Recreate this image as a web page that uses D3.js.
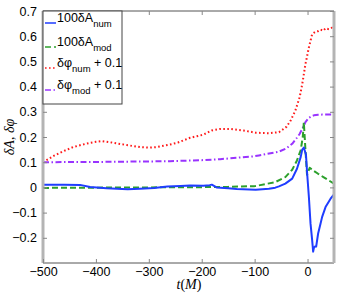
<!DOCTYPE html>
<html><head><meta charset="utf-8">
<script src="https://cdn.jsdelivr.net/npm/d3@7/dist/d3.min.js"></script>
<style>body{margin:0;background:#fff}svg{display:block}</style>
</head><body>
<svg id="c" width="344" height="299"></svg>
<script>
const xTicks = [-500,-400,-300,-200,-100,0];
const yTicks = [-0.2,-0.1,0,0.1,0.2,0.3,0.4,0.5,0.6,0.7];
const yTickLabels = ["\u22120.2","\u22120.1","0","0.1","0.2","0.3","0.4","0.5","0.6","0.7"];
const xTickLabels = ["\u2212500","\u2212400","\u2212300","\u2212200","\u2212100","0"];

const ampNumT = [-500,-460,-430,-411,-380,-340,-317,-290,-265,-240,-222,-197,-185,-181,-176,-172,-150,-134,-98,-73,-61,-54,-42,-29,-20,-13,-10,-7,-3,-0.7,2.5,5.6,8.7,10.6,12,13.8,16.3,20,24.6,27.6,34,43.5,50];
const ampNumV = [0.011,0.011,0.010,0.002,-0.003,-0.007,-0.005,-0.002,0.004,0.006,0.008,0.007,0.009,0.011,0.005,0.000,-0.003,-0.006,-0.009,-0.005,-0.001,0.004,0.015,0.035,0.074,0.120,0.150,0.158,0.130,0.054,-0.037,-0.143,-0.209,-0.255,-0.240,-0.235,-0.235,-0.183,-0.143,-0.117,-0.078,-0.045,-0.028];

const ampModT = [-500,-400,-300,-200,-150,-100,-92,-61,-42,-29,-20,-13,-9,-7,-4,-1,1,4,10,20,30,40,50];
const ampModV = [-0.002,-0.001,0.000,0.001,0.002,0.005,0.008,0.021,0.041,0.070,0.107,0.147,0.200,0.258,0.150,0.050,0.060,0.078,0.068,0.054,0.041,0.028,0.015];

const phiNumT = [-500,-480,-460,-443,-425,-411,-400,-389,-370,-342,-317,-300,-285,-260,-245,-222,-197,-181,-165,-146,-121,-98,-73,-54,-48,-40,-32,-23,-15,-10,-4,2.5,8.7,15,20,24.6,30,34,40,46.5,50];
const phiNumV = [0.100,0.125,0.145,0.160,0.170,0.177,0.181,0.184,0.178,0.168,0.160,0.158,0.160,0.170,0.178,0.197,0.209,0.226,0.232,0.232,0.226,0.217,0.215,0.219,0.228,0.240,0.265,0.305,0.357,0.410,0.489,0.555,0.608,0.618,0.620,0.626,0.622,0.632,0.628,0.634,0.632];

const phiModT = [-500,-400,-300,-260,-200,-165,-103,-92,-54,-40,-29,-20,-15,-10,-4,2.5,8,12,20,27.6,40,50];
const phiModV = [0.100,0.101,0.103,0.104,0.108,0.112,0.123,0.127,0.142,0.155,0.173,0.197,0.212,0.232,0.259,0.276,0.283,0.286,0.288,0.289,0.289,0.289];

const svg = d3.select("#c");
const L=43, R=334, T=11, B=263;
const x = d3.scaleLinear().domain([-500,50]).range([L,R]);
const y = d3.scaleLinear().domain([-0.3,0.7]).range([B,T]);
const font = "'Liberation Sans', Arial, sans-serif";

const series = [
  {t:ampNumT, v:ampNumV, color:"#1f3dff", dash:null},
  {t:ampModT, v:ampModV, color:"#2ca02c", dash:"6,3"},
  {t:phiNumT, v:phiNumV, color:"#ff1a1a", dash:"1.6,2.4"},
  {t:phiModT, v:phiModV, color:"#9933ff", dash:"6,2.5,1.5,2.5"}
];
const line = d3.line().x(d=>x(d[0])).y(d=>y(d[1]));
svg.append("clipPath").attr("id","cp").append("rect").attr("x",L).attr("y",T).attr("width",R-L).attr("height",B-T);
const g = svg.append("g").attr("clip-path","url(#cp)");
[series[2],series[3],series[1],series[0]].forEach(s=>{
  g.append("path").datum(s.t.map((t,i)=>[t,s.v[i]]))
    .attr("d",line).attr("fill","none").attr("stroke",s.color).attr("stroke-width",2)
    .attr("stroke-dasharray",s.dash).attr("stroke-linejoin","round");
});

// frame
svg.append("line").attr("x1",L).attr("x2",R).attr("y1",T).attr("y2",T).attr("stroke","#555").attr("stroke-width",1);
svg.append("line").attr("x1",L).attr("x2",R).attr("y1",B).attr("y2",B).attr("stroke","#555").attr("stroke-width",1);
svg.append("line").attr("x1",L).attr("x2",L).attr("y1",T).attr("y2",B).attr("stroke","#b4b4b4").attr("stroke-width",3);
svg.append("line").attr("x1",R).attr("x2",R).attr("y1",T).attr("y2",B).attr("stroke","#b4b4b4").attr("stroke-width",3);

// axes with inward ticks
const yAxL = d3.axisLeft(y).tickValues(yTicks).tickFormat((d,i)=>yTickLabels[i]).tickSizeInner(-4).tickSizeOuter(0).tickPadding(6);
const gl = svg.append("g").attr("transform",`translate(${L},0)`).call(yAxL);
const yAxR = d3.axisRight(y).tickValues(yTicks).tickFormat("").tickSizeInner(-4).tickSizeOuter(0);
const gr = svg.append("g").attr("transform",`translate(${R},0)`).call(yAxR);
const xAxB = d3.axisBottom(x).tickValues(xTicks).tickFormat((d,i)=>xTickLabels[i]).tickSizeInner(-4).tickSizeOuter(0).tickPadding(4);
const gb = svg.append("g").attr("transform",`translate(0,${B})`).call(xAxB);
const xAxT = d3.axisTop(x).tickValues(xTicks).tickFormat("").tickSizeInner(-4).tickSizeOuter(0);
const gt = svg.append("g").attr("transform",`translate(0,${T})`).call(xAxT);
[gl,gr,gb,gt].forEach(a=>{
  a.select(".domain").remove();
  a.selectAll(".tick line").attr("stroke","#888");
  a.selectAll("text").attr("font-family",font).attr("font-size",12.5).attr("fill","#000");
});
gb.selectAll("text").attr("y",4).attr("dy","0.71em");

// legend
const lg = svg.append("g");
lg.append("rect").attr("x",L).attr("y",T).attr("width",122-L).attr("height",104-T).attr("fill","#fff").attr("stroke","#444").attr("stroke-width",1);
const legRows = [
  {s:series[0], main:"100\u03b4A", sub:"num", tail:"", yy:23},
  {s:series[1], main:"100\u03b4A", sub:"mod", tail:"", yy:47},
  {s:series[2], main:"\u03b4\u03c6", sub:"num", tail:" + 0.1", yy:68},
  {s:series[3], main:"\u03b4\u03c6", sub:"mod", tail:" + 0.1", yy:90}
];
legRows.forEach(r=>{
  lg.append("line").attr("x1",45).attr("x2",56).attr("y1",r.yy).attr("y2",r.yy)
    .attr("stroke",r.s.color).attr("stroke-width",1.5).attr("stroke-dasharray",r.s.dash);
  const t = lg.append("text").attr("x",57).attr("y",r.yy-1).attr("font-family",font).attr("font-size",12.5).attr("fill","#000");
  t.append("tspan").text(r.main);
  t.append("tspan").attr("dy",5).attr("font-size",9.5).text(r.sub);
  if(r.tail) t.append("tspan").attr("dy",-5).text(r.tail);
});

// axis labels
const xl = svg.append("text").attr("x",189).attr("y",289).attr("text-anchor","middle")
  .attr("font-family","'Liberation Serif', 'DejaVu Serif', serif").attr("font-size",14).attr("fill","#000");
xl.append("tspan").attr("font-style","italic").text("t");
xl.append("tspan").text("(");
xl.append("tspan").attr("font-style","italic").text("M");
xl.append("tspan").text(")");
svg.append("text").attr("transform","translate(14,137) rotate(-90)").attr("text-anchor","middle")
  .attr("font-family","'Liberation Serif', 'DejaVu Serif', serif").attr("font-size",14).attr("fill","#000")
  .attr("font-style","italic").text("\u03b4A, \u03b4\u03c6");
</script>
</body></html>
